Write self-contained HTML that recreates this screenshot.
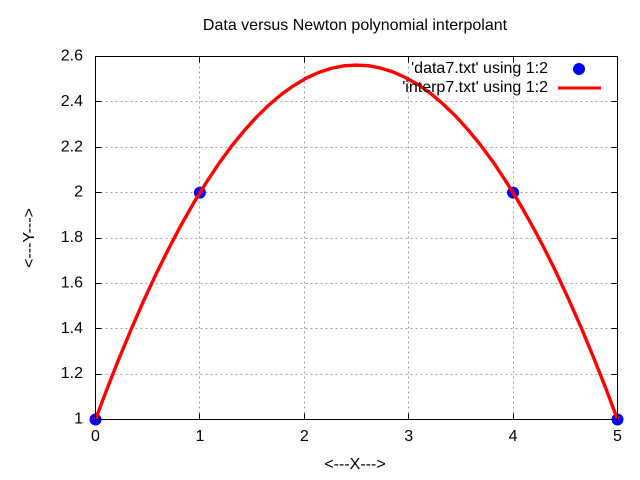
<!DOCTYPE html>
<html>
<head>
<meta charset="utf-8">
<title>Data versus Newton polynomial interpolant</title>
<style>
html,body{margin:0;padding:0;background:#fff;}
svg{display:block;}
text{font-family:"Liberation Sans",sans-serif;font-size:16px;fill:#000;}
</style>
</head>
<body>
<svg id="chart" xmlns="http://www.w3.org/2000/svg" width="640" height="480" viewBox="0 0 640 480">
<rect x="0" y="0" width="640" height="480" fill="#fff"/>
<g id="grid"></g>
<g id="ticks"></g>
<g id="series"></g>
<rect x="95.5" y="56.5" width="522" height="363" fill="none" stroke="#000" stroke-width="1" shape-rendering="crispEdges"/>
<text x="355" y="30" text-anchor="middle">Data versus Newton polynomial interpolant</text>
<text x="355" y="469" text-anchor="middle">&lt;---X---&gt;</text>
<text transform="translate(34,238) rotate(-90)" text-anchor="middle">&lt;---Y---&gt;</text>
<text x="548" y="73" text-anchor="end">'data7.txt' using 1:2</text>
<text x="548" y="92" text-anchor="end">'interp7.txt' using 1:2</text>
<circle cx="579" cy="69" r="6" fill="#0000ff"/>
<line x1="558" y1="88" x2="601" y2="88" stroke="#ff0000" stroke-width="3" shape-rendering="crispEdges"/>
</svg>
<script>
var xTickValues = [0, 1, 2, 3, 4, 5];
var xTickLabels = ['0', '1', '2', '3', '4', '5'];
var yTickValues = [1, 1.2, 1.4, 1.6, 1.8, 2, 2.2, 2.4, 2.6];
var yTickLabels = ['1', '1.2', '1.4', '1.6', '1.8', '2', '2.2', '2.4', '2.6'];
var dataX = [0, 1, 4, 5];
var dataY = [1, 2, 2, 1];
var interpX = [0, 0.1, 0.22, 0.34, 0.46, 0.58, 0.7, 0.82, 0.94, 1.06, 1.18, 1.3, 1.42, 1.54, 1.66, 1.78, 1.9, 2.02, 2.14, 2.26, 2.38, 2.5, 2.62, 2.73, 2.85, 2.97, 3.09, 3.21, 3.33, 3.45, 3.57, 3.69, 3.81, 3.93, 4.05, 4.17, 4.29, 4.41, 4.53, 4.65, 4.77, 4.89, 5];
var interpY = [1, 1.122, 1.263, 1.396, 1.522, 1.641, 1.752, 1.857, 1.954, 2.044, 2.127, 2.203, 2.271, 2.332, 2.386, 2.433, 2.472, 2.505, 2.53, 2.548, 2.559, 2.562, 2.559, 2.549, 2.532, 2.507, 2.476, 2.437, 2.39, 2.337, 2.276, 2.209, 2.134, 2.051, 1.962, 1.865, 1.762, 1.651, 1.532, 1.407, 1.274, 1.135, 1];

var NS = 'http://www.w3.org/2000/svg';
function xScale(v) { return 95.5 + (v - 0) * (522 / 5); }
function yScale(v) { return 419.5 - (v - 1) * (363 / 1.6); }
function make(tag, attrs, parent) {
  var el = document.createElementNS(NS, tag);
  for (var k in attrs) { el.setAttribute(k, attrs[k]); }
  parent.appendChild(el);
  return el;
}
var gridG = document.getElementById('grid');
var ticksG = document.getElementById('ticks');
var seriesG = document.getElementById('series');
var gridStyle = { stroke: '#a0a0a0', 'stroke-width': 1, 'stroke-dasharray': '2 3', 'shape-rendering': 'crispEdges' };
var tickStyle = { stroke: '#000', 'stroke-width': 1, 'shape-rendering': 'crispEdges' };

xTickValues.forEach(function (v, i) {
  var x = Math.floor(xScale(v)) + 0.5;
  if (i > 0 && i < xTickValues.length - 1) {
    var g = make('line', Object.assign({ x1: x, y1: 56.5, x2: x, y2: 419.5 }, gridStyle), gridG);
    
    
    var t1 = make('line', Object.assign({ x1: x, y1: 419.5, x2: x, y2: 413.5 }, tickStyle), ticksG);
    
    
    var t2 = make('line', Object.assign({ x1: x, y1: 56.5, x2: x, y2: 62.5 }, tickStyle), ticksG);
    
    
  }
  var lab = make('text', { x: xScale(v), y: 441, 'text-anchor': 'middle' }, ticksG);
  
  
  lab.textContent = xTickLabels[i];
});

yTickValues.forEach(function (v, i) {
  var y = Math.floor(yScale(v)) + 0.5;
  if (i > 0 && i < yTickValues.length - 1) {
    var g = make('line', Object.assign({ x1: 95.5, y1: y, x2: 617.5, y2: y }, gridStyle), gridG);
    
    
    var t1 = make('line', Object.assign({ x1: 95.5, y1: y, x2: 101.5, y2: y }, tickStyle), ticksG);
    
    
    var t2 = make('line', Object.assign({ x1: 617.5, y1: y, x2: 611.5, y2: y }, tickStyle), ticksG);
    
    
  }
  var lab = make('text', { x: 83, y: yScale(v) + 4, 'text-anchor': 'end' }, ticksG);
  
  
  lab.textContent = yTickLabels[i];
});

dataX.forEach(function (v, i) {
  var c = make('circle', { cx: xScale(v), cy: yScale(dataY[i]), r: 6, fill: '#0000ff' }, seriesG);
  
  
});

var pts = interpX.map(function (v, i) { return xScale(v).toFixed(2) + ',' + yScale(interpY[i]).toFixed(2); }).join(' ');
var line = make('polyline', { points: pts, fill: 'none', stroke: '#ff0000', 'stroke-width': 3.4, 'stroke-linejoin': 'round' }, seriesG);


</script>
</body>
</html>
